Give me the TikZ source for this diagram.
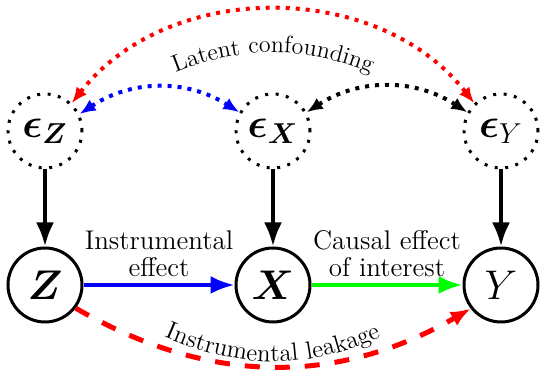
\documentclass[tikz,border=0pt]{standalone}
\usepackage{amsmath}
\usetikzlibrary{arrows.meta,decorations.text}

\begin{document}
\begin{tikzpicture}[x=0.5pt,y=0.5pt,>=Latex,
    var/.style={circle,draw,line width=1.5pt,minimum size=37pt,inner sep=0pt,font=\fontsize{22}{26}\selectfont},
    noise/.style={var,dash pattern=on 1.5pt off 3.75pt},
    cause/.style={->,line width=2pt},
    conf/.style={<->,line width=2pt,dash pattern=on 2pt off 3pt,>={Latex[length=8pt,width=6.5pt]}},
    leak/.style={->,line width=2.5pt,dash pattern=on 7.5pt off 7.5pt,>={Latex[length=10pt,width=8pt]}},
    lbl/.style={text=black,font=\fontsize{13.5}{13.5}\selectfont,align=center}]
  \useasboundingbox (0,0) rectangle (541,373);
  % noise terms
  \node[noise] (eZ) at (45,242) {$\boldsymbol{\epsilon_Z}$};
  \node[noise] (eX) at (273,242) {$\boldsymbol{\epsilon_X}$};
  \node[noise] (eY) at (501,242) {$\boldsymbol{\epsilon}_Y$};
  % observed variables
  \node[var] (Z) at (45,88) {$\boldsymbol{Z}$};
  \node[var] (X) at (273,88) {$\boldsymbol{X}$};
  \node[var] (Y) at (501,88) {$Y$};
  \draw[cause] (eZ)--(Z);
  \draw[cause] (eX)--(X);
  \draw[cause] (eY)--(Y);
  \draw[cause,blue] (Z)--node[lbl,above]{Instrumental\\effect}(X);
  \draw[cause,green] (X)--node[lbl,above]{Causal effect\\of interest}(Y);
  \draw[leak,red] (Z.-37) to[bend right=30] (Y.-142);
  % latent confounding
  \draw[conf,blue] (eZ.26) to[bend left=33] (eX.151);
  \draw[conf] (eX.29) to[bend left=33] (eY.151);
  \draw[conf,red] (eZ.46) to[bend left=52] (eY.134);
  % curved labels
  \coordinate (lcL) at (150,289);
  \coordinate (lcR) at (396,289);
  \coordinate (ilL) at (140,48);
  \coordinate (ilR) at (406,48);
  \path[decorate,decoration={text along path,text align=center,
    text={|\fontsize{12}{14}\selectfont|Latent confounding}}] (lcL) to[bend left=26] (lcR);
  \path[decorate,decoration={text along path,text align=center,
    text={|\fontsize{12.5}{15}\selectfont|Instrumental leakage}}] (ilL) to[bend right=28] (ilR);
\end{tikzpicture}
\end{document}
